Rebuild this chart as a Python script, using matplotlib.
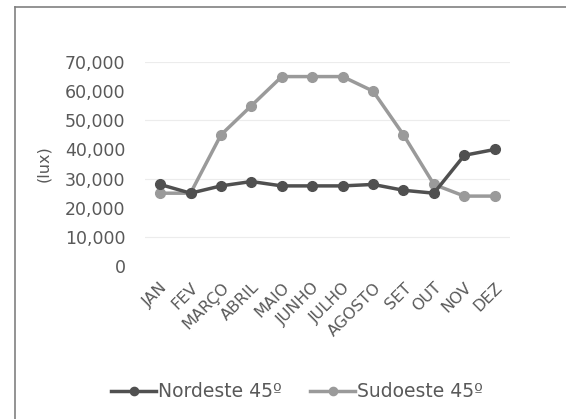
import matplotlib
matplotlib.use('Agg')
import matplotlib.pyplot as plt
from matplotlib.lines import Line2D

meses = ['JAN', 'FEV', 'MARÇO', 'ABRIL', 'MAIO', 'JUNHO', 'JULHO',
         'AGOSTO', 'SET', 'OUT', 'NOV', 'DEZ']
nordeste = [28000, 25000, 27500, 29000, 27500, 27500, 27500, 28000, 26000, 25000, 38000, 40000]
sudoeste = [25000, 25000, 45000, 55000, 65000, 65000, 65000, 60000, 45000, 28000, 24000, 24000]
y_ticks = [0, 10000, 20000, 30000, 40000, 50000, 60000, 70000]

texto = '#595959'
plt.rcParams['font.family'] = ['DejaVu Sans']

fig = plt.figure(figsize=(5.66, 4.19), dpi=100)
ax = fig.add_axes([0.256, 0.365, 0.645, 0.487])

x = list(range(len(meses)))
ax.plot(x, nordeste, marker='o', color='#505050', linewidth=2.5, markersize=7,
        label='Nordeste 45º', zorder=3)
ax.plot(x, sudoeste, marker='o', color='#9a9a9a', linewidth=2.5, markersize=7,
        label='Sudoeste 45º', zorder=2)

ax.set_xlim(-0.5, len(meses) - 0.5)
ax.set_ylim(0, 70000)
ax.set_yticks(y_ticks)
ax.set_yticklabels([f'{v:,}' for v in y_ticks], fontsize=12.5, color=texto)
ax.set_xticks(x)
ax.set_xticklabels(meses, rotation=45, ha='right', rotation_mode='anchor',
                   fontsize=11.5, color=texto)
ax.tick_params(axis='y', length=0, pad=14)
ax.tick_params(axis='x', length=0, pad=10)
ax.set_ylabel('(lux)', fontsize=11.5, color=texto, labelpad=10)

# linhas de grade bem claras a cada 20.000, começando em 10.000
for v in [10000, 30000, 50000, 70000]:
    ax.axhline(v, color='#ececec', linewidth=0.8, zorder=0)
for s in ax.spines.values():
    s.set_visible(False)

leg = fig.legend(loc='center', bbox_to_anchor=(0.525, 0.065), ncol=2, frameon=False,
                 fontsize=13.5, handlelength=2.4, handletextpad=0.1, columnspacing=1.5,
                 markerscale=0.85)
for t in leg.get_texts():
    t.set_color(texto)

# moldura esquerda e superior
fig.add_artist(Line2D([0.027, 0.027], [0, 0.983], color='#808080', linewidth=1.2))
fig.add_artist(Line2D([0.027, 1.0], [0.983, 0.983], color='#808080', linewidth=1.2))

fig.savefig('out.png', dpi=100)
